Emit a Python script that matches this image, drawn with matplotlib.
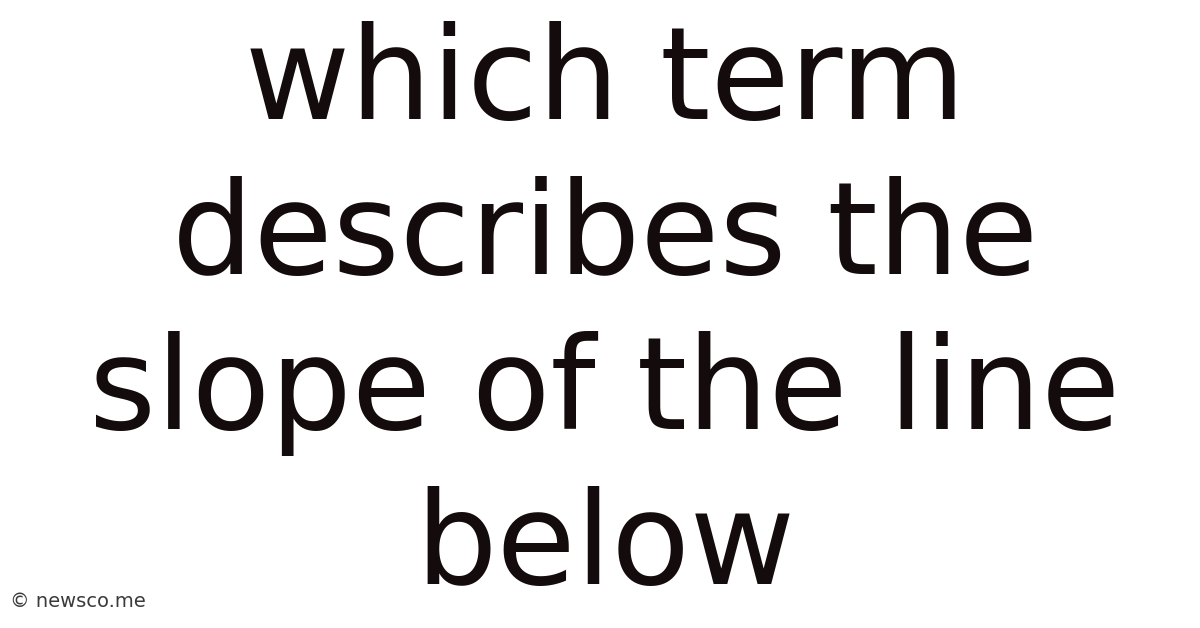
import matplotlib.pyplot as plt

# lines of the title text
lines = ["which term", "describes the", "slope of the line", "below"]
baselines = [119, 274, 429, 584]  # pixel baselines from top
watermark = "© newsco.me"

fig = plt.figure(figsize=(12, 6.28), dpi=100)
fig.patch.set_facecolor("white")

for txt, b in zip(lines, baselines):
    fig.text(605 / 1200, 1 - b / 628, txt, ha="center", va="baseline",
             fontsize=92.5, color="#140c0c", family="DejaVu Sans")

fig.text(10 / 1200, 1 - 607 / 628, watermark, ha="left", va="baseline",
         fontsize=14, color="#3a3a3a", family="DejaVu Sans")

fig.savefig("out.png", dpi=100, facecolor="white")
